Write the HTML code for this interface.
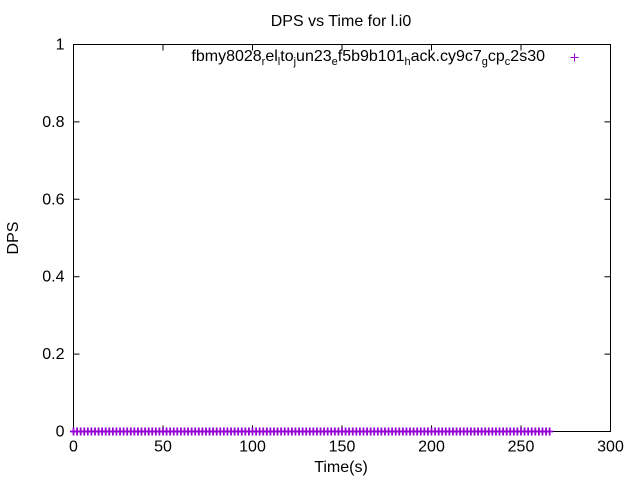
<!DOCTYPE html>
<html><head><meta charset="utf-8"><style>body{margin:0;background:#fff}svg{display:block}text{font-family:"Liberation Sans",sans-serif;font-size:16px;fill:#000}</style></head>
<body>
<svg id="chart" width="640" height="480" xmlns="http://www.w3.org/2000/svg">
<text x="341" y="26" text-anchor="middle">DPS vs Time for l.i0</text>
<text x="341" y="472" text-anchor="middle">Time(s)</text>
<text transform="translate(18,238) rotate(-90)" text-anchor="middle">DPS</text>
<g id="axes"></g>
<g id="marks"></g>
<text x="545" y="61" text-anchor="end">fbmy8028<tspan font-size="11" dy="4">r</tspan><tspan dy="-4">el</tspan><tspan font-size="11" dy="4">l</tspan><tspan dy="-4">to</tspan><tspan font-size="11" dy="4">j</tspan><tspan dy="-4">un23</tspan><tspan font-size="11" dy="4">e</tspan><tspan dy="-4">f5b9b101</tspan><tspan font-size="11" dy="4">h</tspan><tspan dy="-4">ack.cy9c7</tspan><tspan font-size="11" dy="4">g</tspan><tspan dy="-4">cp</tspan><tspan font-size="11" dy="4">c</tspan><tspan dy="-4">2s30</tspan></text>
<path d="M570.5,57.5h8M574.5,53.5v8" stroke="#9400d3" stroke-width="1"/>
</svg>
<script>
const xTicks=[0,50,100,150,200,250,300];
const yTicks=[0,0.2,0.4,0.6,0.8,1];
const yTickLabels=["0","0.2","0.4","0.6","0.8","1"];
const times=[0,2,4,6,8,10,12,14,16,18,20,22,24,26,28,30,32,34,36,38,40,42,44,46,48,50,52,54,56,58,60,62,64,66,68,70,72,74,76,78,80,82,84,86,88,90,92,94,96,98,100,102,104,106,108,110,112,114,116,118,120,122,124,126,128,130,132,134,136,138,140,142,144,146,148,150,152,154,156,158,160,162,164,166,168,170,172,174,176,178,180,182,184,186,188,190,192,194,196,198,200,202,204,206,208,210,212,214,216,218,220,222,224,226,228,230,232,234,236,238,240,242,244,246,248,250,252,254,256,258,260,262,264,266];
const dps=[0,0,0,0,0,0,0,0,0,0,0,0,0,0,0,0,0,0,0,0,0,0,0,0,0,0,0,0,0,0,0,0,0,0,0,0,0,0,0,0,0,0,0,0,0,0,0,0,0,0,0,0,0,0,0,0,0,0,0,0,0,0,0,0,0,0,0,0,0,0,0,0,0,0,0,0,0,0,0,0,0,0,0,0,0,0,0,0,0,0,0,0,0,0,0,0,0,0,0,0,0,0,0,0,0,0,0,0,0,0,0,0,0,0,0,0,0,0,0,0,0,0,0,0,0,0,0,0,0,0,0,0,0,0];
const L=73.5,R=610.5,T=44.5,B=431.5;
const sx=v=>L+(v/300)*(R-L);
const sy=v=>B-(v/1)*(B-T);
const NS="http://www.w3.org/2000/svg";
const axes=document.getElementById('axes'),marks=document.getElementById('marks');
function mk(tag,attrs,parent){const e=document.createElementNS(NS,tag);for(const k in attrs)e.setAttribute(k,attrs[k]);parent.appendChild(e);return e;}
let frame=mk('rect',{x:L,y:T,width:R-L,height:B-T,fill:'none',stroke:'#000','stroke-width':1},axes);


xTicks.forEach(t=>{const x=sx(t);
 let p=mk('path',{d:`M${x},${B}v-6M${x},${T}v6`,stroke:'#000'},axes);
 
 
 let tx=mk('text',{x:x,y:B+20,'text-anchor':'middle'},axes);tx.textContent=t;
 
 
});
yTicks.forEach((t,i)=>{const y=sy(t);
 let p=mk('path',{d:`M${L},${y}h6M${R},${y}h-6`,stroke:'#000'},axes);
 
 
 let tx=mk('text',{x:L-9,y:y+5,'text-anchor':'end'},axes);tx.textContent=yTickLabels[i];
 
 
});
times.forEach((t,i)=>{const x=sx(t),y=sy(dps[i]);
 let p=mk('path',{d:`M${x-3.5},${y}h7M${x},${y-4}v8`,stroke:'#9400d3','stroke-width':1.8},marks);
 
 
});
</script>
</body></html>
